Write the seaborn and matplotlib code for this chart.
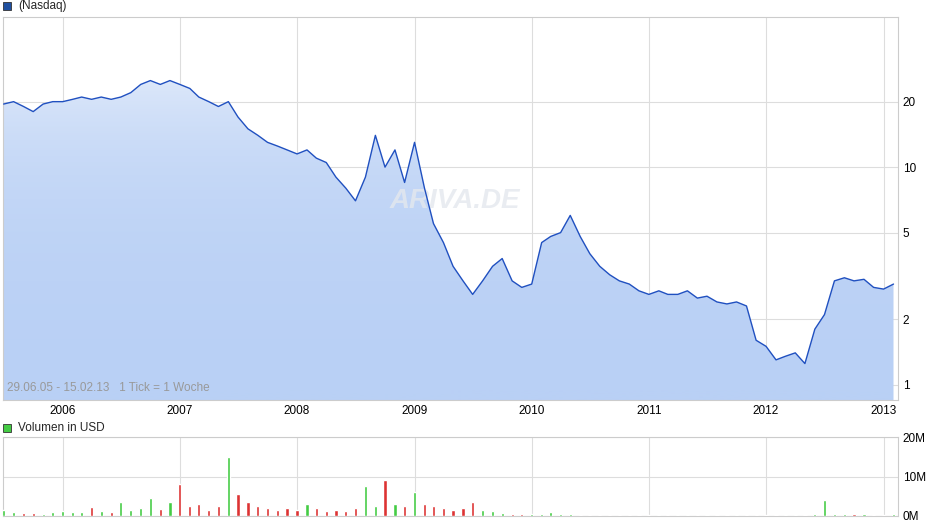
import numpy as np
import pandas as pd
import matplotlib.pyplot as plt
import matplotlib.dates as mdates
from matplotlib.patches import Polygon
from matplotlib.colors import LinearSegmentedColormap
import seaborn as sns

# monthly closes from Jul 2005 to Feb 2013
price = [19.5, 20, 19, 18, 19.5, 20,
         20, 20.5, 21, 20.5, 21, 20.5, 21, 22, 24, 25, 24, 25,
         24, 23, 21, 20, 19, 20, 17, 15, 14, 13, 12.5, 12,
         11.5, 12, 11, 10.5, 9, 8, 7, 9, 14, 10, 12, 8.5,
         13, 8, 5.5, 4.5, 3.5, 3, 2.6, 3, 3.5, 3.8, 3, 2.8,
         2.9, 4.5, 4.8, 5, 6, 4.8, 4, 3.5, 3.2, 3, 2.9, 2.7,
         2.6, 2.7, 2.6, 2.6, 2.7, 2.5, 2.55, 2.4, 2.35, 2.4, 2.3, 1.6,
         1.5, 1.3, 1.35, 1.4, 1.25, 1.8, 2.1, 3, 3.1, 3, 3.05, 2.8,
         2.75, 2.9]
volume = [1.5, 1, 0.8, 0.7, 0.6, 1,
          1.2, 0.9, 1.0, 2.3, 1.2, 1.1, 3.5, 1.5, 2.0, 4.5, 1.8, 3.5,
          8, 2.5, 3, 1.5, 2.5, 15, 5.5, 3.5, 2.5, 2, 1.5, 2,
          1.5, 3, 2, 1.2, 1.5, 1.2, 2, 7.5, 2.5, 9, 3, 2.5,
          6, 3, 2.5, 2, 1.5, 2, 3.5, 1.5, 1.2, 0.8, 0.5, 0.5,
          0.5, 0.4, 1, 0.6, 0.4, 0.3, 0.3, 0.3, 0.3, 0.3, 0.3, 0.3,
          0.3, 0.3, 0.3, 0.3, 0.3, 0.3, 0.3, 0.3, 0.3, 0.3, 0.3, 0.3,
          0.3, 0.3, 0.3, 0.2, 0.3, 0.4, 4, 0.6, 0.5, 0.4, 0.4, 0.3,
          0.3, 0.4]
dates = pd.date_range("2005-07-01", periods=len(price), freq="MS")

df = pd.DataFrame({"date": dates, "price": price, "volume": np.array(volume) * 1e6})
df["up"] = df["price"].diff().fillna(0) >= 0

sns.set_style("white")
plt.rcParams["font.family"] = ["Liberation Sans", "DejaVu Sans"]
plt.rcParams["font.size"] = 8.5

fig = plt.figure(figsize=(9.4, 5.26), dpi=100)
ax = fig.add_axes([3 / 940, 1 - 400 / 526, 895 / 940, 383 / 526])
axv = fig.add_axes([3 / 940, 1 - 516 / 526, 895 / 940, 79 / 526])

x0, x1 = pd.Timestamp("2005-06-29"), pd.Timestamp("2013-02-15")
for a in (ax, axv):
    a.set_xlim(x0, x1)
    a.grid(True, color="#dddddd", linewidth=0.8)
    for s in a.spines.values():
        s.set_color("#cccccc")
    a.yaxis.tick_right()
    a.tick_params(length=0, labelsize=8.5, colors="black")
    a.xaxis.set_major_locator(mdates.YearLocator())

ax.set_yscale("log")
ax.set_ylim(0.85, 49)
ax.set_yticks([1, 2, 5, 10, 20])
ax.set_yticklabels(["1", "2", "5", "10", "20"])
ax.minorticks_off()
ax.xaxis.set_major_formatter(mdates.DateFormatter("%Y"))

# gradient fill under the line
xn = mdates.date2num(df["date"])
grad = np.linspace(0, 1, 256).reshape(-1, 1)
cmap = LinearSegmentedColormap.from_list("g", ["#b9d0f5", "#ffffff"])
im = ax.imshow(grad, cmap=cmap, aspect="auto", origin="lower",
               extent=[mdates.date2num(x0), mdates.date2num(x1), 0.85, 49], zorder=1)
poly = Polygon(np.column_stack([np.r_[xn[0], xn, xn[-1]], np.r_[0.85, df["price"], 0.85]]),
               closed=True, transform=ax.transData, facecolor="none", edgecolor="none")
ax.add_patch(poly)
im.set_clip_path(poly)
sns.lineplot(data=df, x="date", y="price", ax=ax, color="#2050c0", linewidth=1, zorder=4)
ax.set_xlabel("")
ax.set_ylabel("")
ax.set_ylim(0.85, 49)
ax.text(0.505, 0.52, "ARIVA.DE", transform=ax.transAxes, fontsize=20, color="#e4e8ee",
        alpha=0.8, ha="center", va="center", fontweight="bold", fontstyle="italic", zorder=3)
ax.text(0.005, 0.015, "29.06.05 - 15.02.13   1 Tick = 1 Woche", transform=ax.transAxes,
        color="#999999", fontsize=8.5, va="bottom", zorder=5)

colors = ["#44cc44" if u else "#dd3333" for u in df["up"]]
axv.bar(df["date"], df["volume"], width=10, color=colors, zorder=3)
axv.set_ylim(0, 20e6)
axv.set_yticks([0, 10e6, 20e6])
axv.set_yticklabels(["0M", "10M", "20M"])
axv.set_xticklabels([])

fig.text(18 / 940, 1 - 6 / 526, "(Nasdaq)", va="center", fontsize=8.5)
fig.patches.append(plt.Rectangle((3 / 940, 1 - 10 / 526), 8 / 940, 8 / 526, transform=fig.transFigure,
                                 facecolor="#2050a0", edgecolor="#333333", lw=0.6))
fig.text(18 / 940, 1 - 428 / 526, "Volumen in USD", va="center", fontsize=8.5)
fig.patches.append(plt.Rectangle((3 / 940, 1 - 432 / 526), 8 / 940, 8 / 526, transform=fig.transFigure,
                                 facecolor="#44cc44", edgecolor="#333333", lw=0.6))

fig.savefig("out.png", dpi=100)
